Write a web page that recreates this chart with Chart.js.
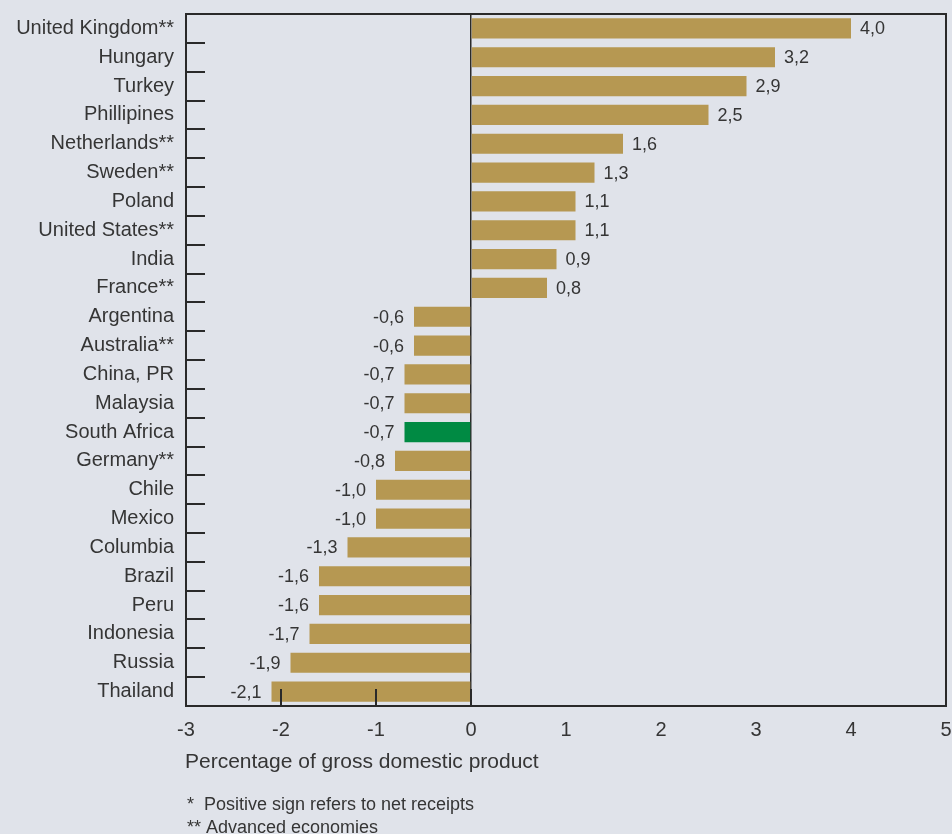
<!DOCTYPE html>
<html>
<head>
<meta charset="utf-8">
<script src="https://cdn.jsdelivr.net/npm/chart.js@4/dist/chart.umd.min.js"></script>
<style>
  html, body { margin: 0; padding: 0; background: #e0e3ea; overflow: hidden; }
  #wrap { width: 952px; height: 834px; position: relative; }
</style>
</head>
<body>
<div id="wrap"><canvas id="barChart" width="952" height="834"></canvas></div>
<script>
// Data
const countries = ['United Kingdom**', 'Hungary', 'Turkey', 'Phillipines', 'Netherlands**', 'Sweden**',
    'Poland', 'United States**', 'India', 'France**', 'Argentina', 'Australia**', 'China, PR', 'Malaysia',
    'South Africa', 'Germany**', 'Chile', 'Mexico', 'Columbia', 'Brazil', 'Peru', 'Indonesia', 'Russia', 'Thailand'];
const values = [4.0, 3.2, 2.9, 2.5, 1.6, 1.3, 1.1, 1.1, 0.9, 0.8, -0.6, -0.6, -0.7, -0.7,
    -0.7, -0.8, -1.0, -1.0, -1.3, -1.6, -1.6, -1.7, -1.9, -2.1];
const highlight = 'South Africa';
const xMin = -3, xMax = 5;
const innerXTicks = [-2, -1, 0];
const axisTitle = 'Percentage of gross domestic product';
const footnotes = [['*', 'Positive sign refers to net receipts'], ['**', 'Advanced economies']];

const GOLD = '#b69852';
const GREEN = '#008a43';
const INK = '#2a2a2a';
const TEXT = '#353535';
const FONT = '"Liberation Sans", Arial, sans-serif';

// Frame, inner ticks, value labels and notes
const decorPlugin = {
    id: 'decor',
    beforeDraw(chart) {
        const ctx = chart.ctx;
        ctx.save();
        ctx.fillStyle = '#e0e3ea';
        ctx.fillRect(0, 0, chart.width, chart.height);
        ctx.restore();
    },
    afterDatasetsDraw(chart) {
        const ctx = chart.ctx;
        const area = chart.chartArea;
        const xs = chart.scales.x, ys = chart.scales.y;
        ctx.save();

        // value labels
        ctx.font = '18px ' + FONT;
        ctx.fillStyle = TEXT;
        ctx.textBaseline = 'middle';
        chart.getDatasetMeta(0).data.forEach((bar, i) => {
            const v = values[i];
            const txt = v.toFixed(1).replace('.', ',');
            if (v >= 0) {
                ctx.textAlign = 'left';
                ctx.fillText(txt, bar.x + 9, bar.y + 1);
            } else {
                ctx.textAlign = 'right';
                ctx.fillText(txt, bar.x - 10, bar.y + 1);
            }
        });

        // frame
        ctx.strokeStyle = INK;
        ctx.lineWidth = 2;
        ctx.strokeRect(area.left, area.top, area.right - area.left, area.bottom - area.top);

        // category separator ticks on the left
        const step = ys.getPixelForValue(1) - ys.getPixelForValue(0);
        for (let i = 0; i < countries.length - 1; i++) {
            const y = Math.round(ys.getPixelForValue(i) + step / 2);
            ctx.beginPath();
            ctx.moveTo(area.left, y);
            ctx.lineTo(area.left + 19, y);
            ctx.stroke();
        }

        // short ticks on the bottom
        innerXTicks.forEach(t => {
            const x = Math.round(xs.getPixelForValue(t));
            ctx.beginPath();
            ctx.moveTo(x, area.bottom);
            ctx.lineTo(x, area.bottom - 17);
            ctx.stroke();
        });

        // axis title and footnotes
        ctx.textAlign = 'left';
        ctx.textBaseline = 'middle';
        ctx.fillStyle = TEXT;
        ctx.font = '21px ' + FONT;
        ctx.fillText(axisTitle, area.left - 1, 762);
        ctx.font = '18px ' + FONT;
        ctx.fillText(footnotes[0][0], area.left + 1, 805);
        ctx.fillText(footnotes[0][1], area.left + 18, 805);
        ctx.fillText(footnotes[1][0], area.left + 1, 828);
        ctx.fillText(footnotes[1][1], area.left + 20, 828);
        ctx.restore();
    }
};

const ctxBar = document.getElementById('barChart').getContext('2d');
const barChart = new Chart(ctxBar, {
    type: 'bar',
    data: {
        labels: countries,
        datasets: [{
            data: values,
            backgroundColor: countries.map(c => c === highlight ? GREEN : GOLD),
            borderWidth: 0,
            barPercentage: 0.7,
            categoryPercentage: 1.0
        }]
    },
    options: {
        indexAxis: 'y',
        responsive: false,
        animation: false,
        devicePixelRatio: 1,
        layout: { padding: { top: 14, right: 6, left: 0, bottom: 0 } },
        plugins: {
            legend: { display: false },
            tooltip: { enabled: false }
        },
        scales: {
            x: {
                min: xMin,
                max: xMax,
                afterFit: s => {
                    s.height = 128;
                    s.paddingLeft = 0;
                    s.paddingRight = 0;
                },
                ticks: {
                    stepSize: 1,
                    padding: 12,
                    maxRotation: 0,
                    color: TEXT,
                    font: { family: FONT, size: 20 }
                },
                grid: {
                    drawTicks: false,
                    lineWidth: 1.5,
                    color: c => (c.tick && c.tick.value === 0) ? INK : 'rgba(0,0,0,0)'
                },
                border: { display: false }
            },
            y: {
                afterFit: s => {
                    s.width = 186;
                    s.paddingTop = 0;
                    s.paddingBottom = 0;
                },
                ticks: {
                    padding: 12,
                    autoSkip: false,
                    color: TEXT,
                    font: { family: FONT, size: 20 }
                },
                grid: { display: false, drawTicks: false },
                border: { display: false }
            }
        }
    },
    plugins: [decorPlugin]
});
</script>
</body>
</html>
